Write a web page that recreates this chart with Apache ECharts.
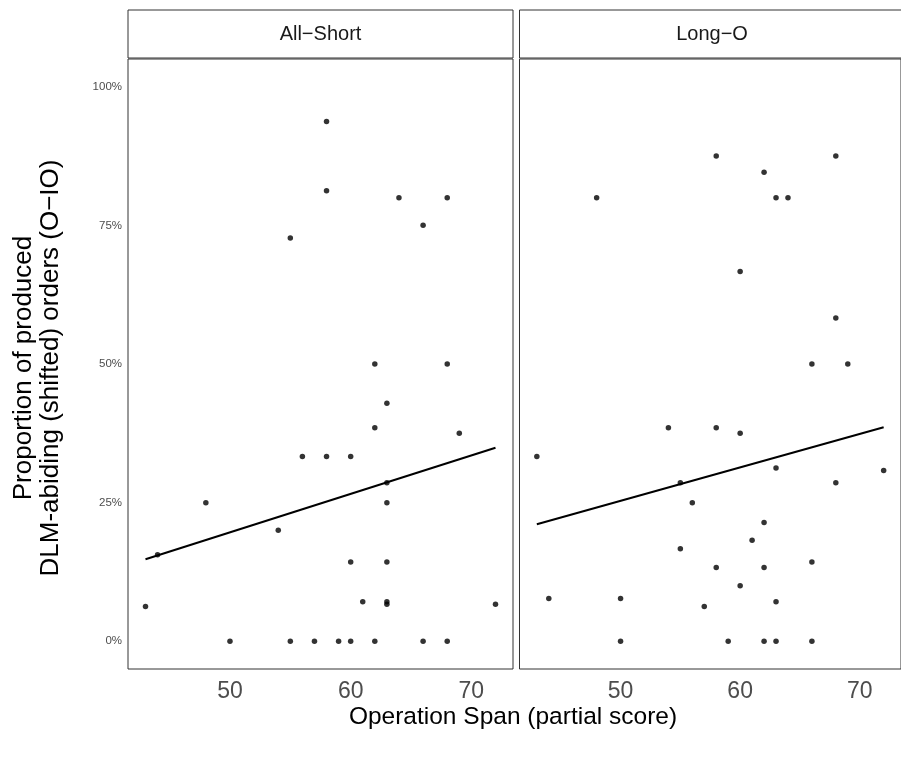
<!DOCTYPE html>
<html><head><meta charset="utf-8">
<script src="https://cdn.jsdelivr.net/npm/echarts@6/dist/echarts.min.js"></script>
<style>html,body{margin:0;padding:0;background:#fff}#c{width:901px;height:760px}</style>
</head><body><div id="c"></div>
<script>
const panels = ['All−Short', 'Long−O'];
const xTicks = [50, 60, 70];
const yTicks = [0, 0.25, 0.5, 0.75, 1];
const xTitle = 'Operation Span (partial score)';
const yTitle = 'Proportion of produced\nDLM-abiding (shifted) orders (O−IO)';

const shortX = [43, 44, 48, 50, 54, 55, 55, 56, 57, 58, 58, 58, 59, 60, 60, 60, 61, 62, 62, 62, 63, 63, 63, 63, 63, 63, 64, 66, 66, 68, 68, 68, 69, 72];
const shortY = [0.0625, 0.156, 0.25, 0, 0.2, 0.727, 0, 0.333, 0, 0.9375, 0.8125, 0.333, 0, 0.333, 0.143, 0, 0.0714, 0.5, 0.385, 0, 0.429, 0.286, 0.25, 0.143, 0.0714, 0.0667, 0.8, 0.75, 0, 0.8, 0.5, 0, 0.375, 0.0667];

const longX = [43, 44, 48, 50, 50, 54, 55, 55, 56, 57, 58, 58, 58, 59, 60, 60, 60, 61, 62, 62, 62, 62, 63, 63, 63, 63, 64, 66, 66, 66, 68, 68, 68, 69, 72];
const longY = [0.333, 0.077, 0.8, 0.077, 0, 0.385, 0.286, 0.167, 0.25, 0.0625, 0.875, 0.385, 0.133, 0, 0.667, 0.375, 0.1, 0.182, 0.846, 0.214, 0.133, 0, 0.8, 0.3125, 0.0714, 0, 0.8, 0.5, 0.143, 0, 0.875, 0.583, 0.286, 0.5, 0.308];

const shortFitX = [43, 72];
const shortFitY = [0.148, 0.349];
const longFitX = [43, 72];
const longFitY = [0.211, 0.386];

const FONT = 'Liberation Sans, Arial, Helvetica, sans-serif';
const zip = (xs, ys) => xs.map((x, i) => [x, ys[i]]);

const grids = [
  {left: 128, top: 59, width: 385, height: 610},
  {left: 519.5, top: 59, width: 386, height: 610}
];

const chart = echarts.init(document.getElementById('c'), null, {renderer: 'canvas'});

const xAxes = grids.map((g, i) => ({
  type: 'value', gridIndex: i, min: 41.55, max: 73.45,
  axisLine: {show: false}, axisTick: {show: false}, splitLine: {show: false},
  axisLabel: {customValues: xTicks, fontSize: 23, color: '#4d4d4d', fontFamily: FONT, margin: 11}
}));
const yAxes = grids.map((g, i) => ({
  type: 'value', gridIndex: i, min: -0.05, max: 1.05,
  axisLine: {show: false}, axisTick: {show: false}, splitLine: {show: false},
  axisLabel: {show: i === 0, customValues: yTicks, fontSize: 11.5, color: '#4d4d4d', fontFamily: FONT, margin: 6,
    formatter: v => Math.round(v * 100) + '%'}
}));

const graphic = [];
grids.forEach((g, i) => {
  graphic.push({type: 'rect', shape: {x: g.left, y: 10, width: g.width, height: 48},
    style: {fill: '#fff', stroke: '#333', lineWidth: 1}, silent: true});
  graphic.push({type: 'text', x: g.left + (i === 0 ? g.width / 2 : 192.5), y: 34,
    style: {text: panels[i], fill: '#1a1a1a', font: '20px ' + FONT, textAlign: 'center', textVerticalAlign: 'middle'}});
});
graphic.push({type: 'text', x: 513, y: 717,
  style: {text: xTitle, fill: '#000', font: '24.5px ' + FONT, textAlign: 'center', textVerticalAlign: 'middle'}});
graphic.push({type: 'text', x: 37, y: 368, rotation: Math.PI / 2,
  style: {text: yTitle, fill: '#000', font: '26px ' + FONT, textAlign: 'center', textVerticalAlign: 'middle', lineHeight: 27}});

chart.setOption({
  backgroundColor: '#fff',
  animation: false,
  grid: grids.map(g => Object.assign({show: true, borderColor: '#333', borderWidth: 1, backgroundColor: '#fff'}, g)),
  xAxis: xAxes,
  yAxis: yAxes,
  graphic: graphic,
  series: [
    {type: 'scatter', xAxisIndex: 0, yAxisIndex: 0, data: zip(shortX, shortY), symbolSize: 5.5, itemStyle: {color: '#000'}},
    {type: 'scatter', xAxisIndex: 1, yAxisIndex: 1, data: zip(longX, longY), symbolSize: 5.5, itemStyle: {color: '#000'}},
    {type: 'line', xAxisIndex: 0, yAxisIndex: 0, data: zip(shortFitX, shortFitY), symbol: 'none', lineStyle: {color: '#000', width: 2}},
    {type: 'line', xAxisIndex: 1, yAxisIndex: 1, data: zip(longFitX, longFitY), symbol: 'none', lineStyle: {color: '#000', width: 2}}
  ]
});
</script></body></html>
